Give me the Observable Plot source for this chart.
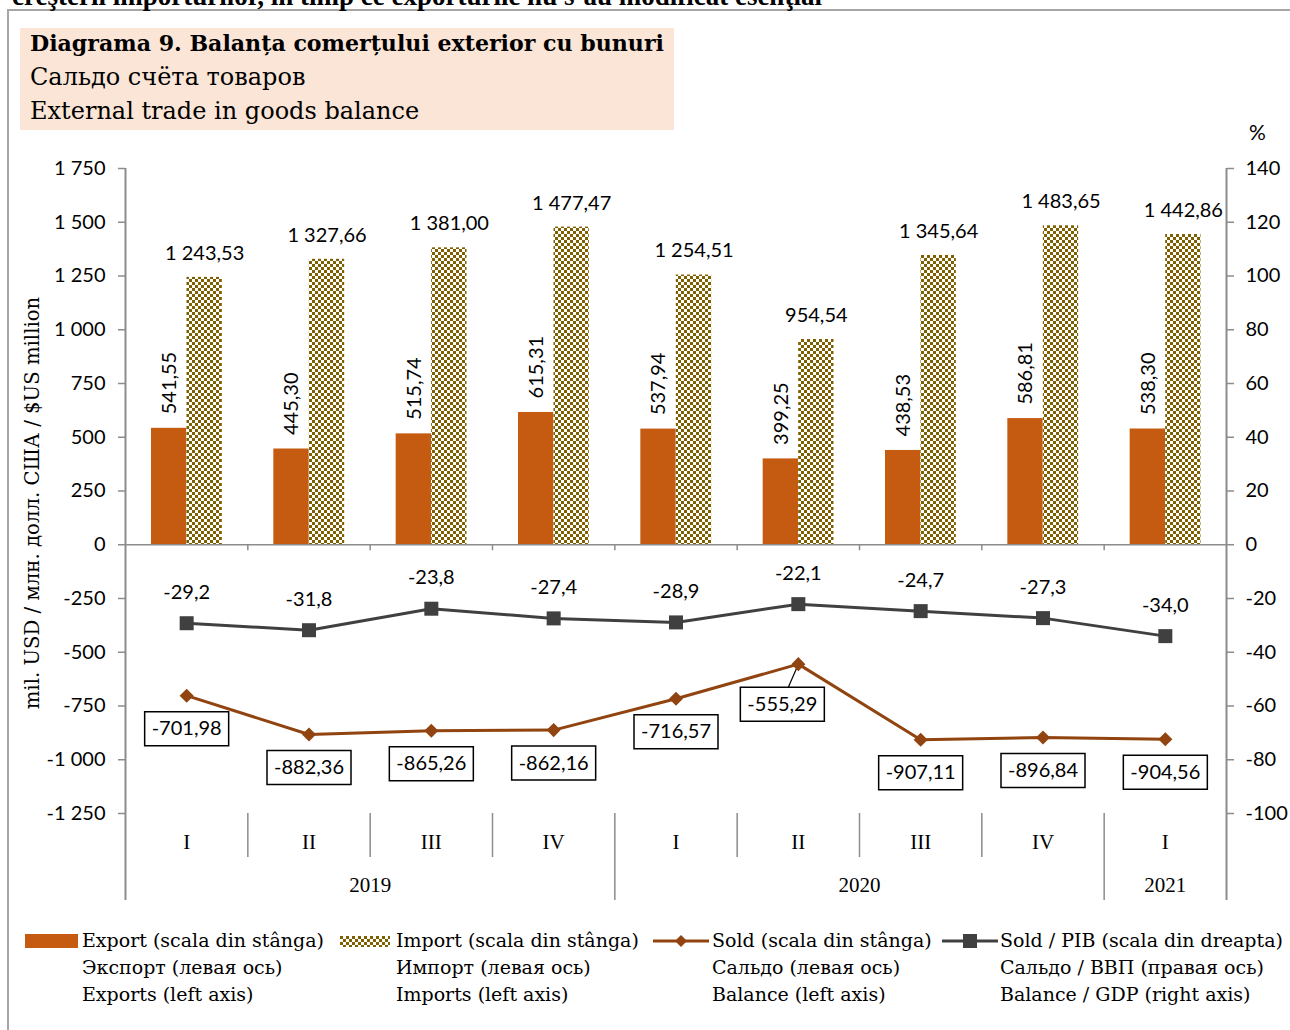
<!DOCTYPE html>
<html><head><meta charset="utf-8">
<script src="https://cdn.jsdelivr.net/npm/d3@7"></script>
<script src="https://cdn.jsdelivr.net/npm/@observablehq/plot@0.6"></script>
<style>
html,body{margin:0;padding:0;background:#fff;}
body{width:1290px;height:1030px;overflow:hidden;position:relative;font-family:"DejaVu Serif",serif;color:#000;}
#frame{position:absolute;left:7px;top:9px;width:1300px;height:1040px;border-left:2px solid #a6a6a6;border-top:2px solid #a6a6a6;}
#cut{position:absolute;left:12px;top:-19px;font:bold 27px "Liberation Serif",serif;line-height:30px;white-space:nowrap;}
#titlebox{position:absolute;left:20px;top:28px;width:654px;height:102px;background:#FBE5D6;z-index:2;}
.tl{position:absolute;left:10px;font-size:24px;line-height:30px;white-space:nowrap;}
#chart{position:absolute;left:0;top:120px;z-index:1;}
.lg{position:absolute;font-size:19px;line-height:27px;white-space:nowrap;}
.sw{position:absolute;}
</style>
</head><body>
<svg width="0" height="0" style="position:absolute">
  <defs>
    <pattern id="chk" patternUnits="userSpaceOnUse" width="6" height="6">
      <rect width="6" height="6" fill="#ffffff"/>
      <rect x="0" y="0" width="3" height="3" fill="#7F6000"/>
      <rect x="3" y="3" width="3" height="3" fill="#7F6000"/>
    </pattern>
  </defs>
</svg>
<div id="frame"></div>
<div id="cut">creşterii importurilor, în timp ce exporturile nu s-au modificat esenţial</div>
<div id="titlebox">
  <div class="tl" style="top:0px;font-weight:bold;font-size:22.1px;">Diagrama 9. Balanța comerțului exterior cu bunuri</div>
  <div class="tl" style="top:34px;">Сальдо счёта товаров</div>
  <div class="tl" style="top:68px;">External trade in goods balance</div>
</div>
<div id="chart"></div>
<div id="legend"></div>
<script>
// ---- data ----
const quarters = ["I","II","III","IV","I","II","III","IV","I"];
const yearOf   = ["2019","2019","2019","2019","2020","2020","2020","2020","2021"];
const years    = ["2019","2020","2021"];
const exportsV = [541.55, 445.30, 515.74, 615.31, 537.94, 399.25, 438.53, 586.81, 538.30];
const importsV = [1243.53, 1327.66, 1381.00, 1477.47, 1254.51, 954.54, 1345.64, 1483.65, 1442.86];
const balanceV = [-701.98, -882.36, -865.26, -862.16, -716.57, -555.29, -907.11, -896.84, -904.56];
const balGdpV  = [-29.2, -31.8, -23.8, -27.4, -28.9, -22.1, -24.7, -27.3, -34.0];
const leftTicks = [-1250,-1000,-750,-500,-250,0,250,500,750,1000,1250,1500,1750];
const axisTitle = "mil. USD / млн. долл. США / $US million";
const ratio = 12.5; // left units per right-axis unit

const rows = quarters.map((q,i)=>({i, q, year:yearOf[i], exp:exportsV[i], imp:importsV[i], bal:balanceV[i], gdp:balGdpV[i]}));
const yearRows = years.map(y=>({year:y, c:d3.mean(rows.filter(r=>r.year===y), r=>r.i)}));

const loc = d3.formatLocale({decimal:",", thousands:" ", grouping:[3], currency:["",""], minus:"-"});
const f2 = loc.format(",.2f"), f1 = loc.format(".1f"), f0 = loc.format(",d"), fr = loc.format("d");

// ---- layout ----
const W=1290, H=800, mL=125, mR=64, mT=48, mB=107;
const plotH = H-mT-mB;
const SANS = "Lato, 'Open Sans', sans-serif";
const SERIF = "'Liberation Serif', serif";
const SERIF2 = "'DejaVu Serif', serif";
const cExp="#C55A11", cBal="#914410", cGdp="#404040", cAxis="#8c8c8c";

const diamond = {draw(ctx,size){const h=Math.sqrt(size/2);ctx.moveTo(0,-h);ctx.lineTo(h,0);ctx.lineTo(0,h);ctx.lineTo(-h,0);ctx.closePath();}};
const box = {draw(ctx){ctx.rect(-42,-17,84,34);}};
const leader = {draw(ctx){ctx.moveTo(0,0);ctx.lineTo(-10,23);}};
const moved = 5;

const inner = d3.range(0.5, 8, 1);
const qSep = inner.filter(v=>v!==3.5 && v!==7.5);
const ySep = [3.5, 7.5];

const chart = Plot.plot({
  width:W, height:H, marginLeft:mL, marginRight:mR, marginTop:mT, marginBottom:mB,
  style:{background:"transparent", overflow:"visible"},
  x:{type:"linear", domain:[-0.5,8.5], axis:null, label:null},
  y:{domain:[-1250,1750], axis:null, label:null},
  marks:[
    Plot.rectY(rows,{x1:d=>d.i-0.5, x2:d=>d.i+0.5, y1:0, y2:"exp", insetLeft:26, insetRight:61, fill:cExp}),
    Plot.rectY(rows,{x1:d=>d.i-0.5, x2:d=>d.i+0.5, y1:0, y2:"imp", insetLeft:61.5, insetRight:25.5, fill:"url(#chk)"}),
    Plot.ruleY([0],{stroke:cAxis, strokeWidth:1.5}),
    Plot.ruleX(inner,{y1:0, y2:0, insetBottom:-6, stroke:cAxis, strokeWidth:1.5}),
    Plot.ruleX([-0.5,8.5],{stroke:cAxis, strokeWidth:2, insetBottom:-87}),
    Plot.ruleX(ySep,{stroke:cAxis, strokeWidth:1.5, insetTop:plotH, insetBottom:-87}),
    Plot.ruleX(qSep,{stroke:cAxis, strokeWidth:1.5, insetTop:plotH, insetBottom:-44}),
    Plot.axisY(leftTicks,{anchor:"left", tickSize:7, tickPadding:13, tickFormat:f0, fontSize:20, fontFamily:SANS, stroke:cAxis, fill:"black", strokeWidth:1.5}),
    Plot.axisY(leftTicks,{anchor:"right", tickSize:7, tickPadding:12, tickFormat:d=>fr(d/ratio), fontSize:20, fontFamily:SANS, stroke:cAxis, fill:"black", strokeWidth:1.5}),
    Plot.line(rows,{x:"i", y:d=>d.gdp*ratio, stroke:cGdp, strokeWidth:3}),
    Plot.dot(rows,{x:"i", y:d=>d.gdp*ratio, symbol:"square", r:7.9, fill:cGdp}),
    Plot.dot(rows.filter(d=>d.i===moved),{x:"i", y:"bal", symbol:leader, stroke:"black", fill:"none", strokeWidth:1.2}),
    Plot.line(rows,{x:"i", y:"bal", stroke:cBal, strokeWidth:3}),
    Plot.dot(rows,{x:"i", y:"bal", symbol:diamond, r:5.6, fill:cBal}),
    Plot.dot(rows.filter(d=>d.i!==moved),{x:"i", y:"bal", dy:33, symbol:box, fill:"white", stroke:"black", strokeWidth:1.5}),
    Plot.dot(rows.filter(d=>d.i===moved),{x:"i", y:"bal", dx:-16, dy:40, symbol:box, fill:"white", stroke:"black", strokeWidth:1.5}),
    Plot.text(rows.filter(d=>d.i!==moved),{x:"i", y:"bal", dy:33, text:d=>f2(d.bal), fontSize:20, fontFamily:SANS, fill:"black"}),
    Plot.text(rows.filter(d=>d.i===moved),{x:"i", y:"bal", dx:-16, dy:40, text:d=>f2(d.bal), fontSize:20, fontFamily:SANS, fill:"black"}),
    Plot.text(rows,{x:"i", y:d=>d.gdp*ratio, dy:-31, text:d=>f1(d.gdp), fontSize:20, fontFamily:SANS, fill:"black"}),
    Plot.text(rows,{x:"i", y:"imp", dx:18, dy:-24, text:d=>f2(d.imp), fontSize:20, fontFamily:SANS, fill:"black"}),
    Plot.text(rows,{x:"i", y:"exp", dx:-17, dy:-14, rotate:-90, textAnchor:"start", text:d=>f2(d.exp), fontSize:20, fontFamily:SANS, fill:"black"}),
    Plot.text(rows,{x:"i", frameAnchor:"bottom", lineAnchor:"middle", dy:29, text:"q", fontSize:21, fontFamily:SERIF, fill:"black"}),
    Plot.text(yearRows,{x:"c", frameAnchor:"bottom", lineAnchor:"middle", dy:72, text:"year", fontSize:21, fontFamily:SERIF, fill:"black"}),
    Plot.text([axisTitle],{frameAnchor:"left", rotate:-90, dx:-93, dy:12, textAnchor:"middle", lineAnchor:"middle", fontSize:19.7, fontFamily:SERIF2, fill:"black"}),
    Plot.text(["%"],{frameAnchor:"top-right", dx:31, dy:-35, textAnchor:"middle", lineAnchor:"middle", fontSize:21, fontFamily:SANS, fill:"black"})
  ]
});
document.getElementById("chart").appendChild(chart);

// ---- legend ----
const legendItems = [
  {sx:25, tx:82, lines:["Export (scala din stânga)","Экспорт (левая ось)","Exports (left axis)"], kind:"exp"},
  {sx:340, tx:396, lines:["Import (scala din stânga)","Импорт (левая ось)","Imports (left axis)"], kind:"imp"},
  {sx:653, tx:712, lines:["Sold (scala din stânga)","Сальдо (левая ось)","Balance (left axis)"], kind:"bal"},
  {sx:942, tx:1000, lines:["Sold / PIB (scala din dreapta)","Сальдо / ВВП (правая ось)","Balance / GDP (right axis)"], kind:"gdp"}
];
const lg = document.getElementById("legend");
legendItems.forEach(it=>{
  let sw = "";
  if(it.kind==="exp") sw = `<svg class="sw" style="left:${it.sx}px;top:934px" width="53" height="14"><rect width="53" height="14" fill="${cExp}"/></svg>`;
  if(it.kind==="imp") sw = `<svg class="sw" style="left:${it.sx}px;top:936px" width="50" height="11"><rect width="50" height="11" fill="url(#chk)"/></svg>`;
  if(it.kind==="bal") sw = `<svg class="sw" style="left:${it.sx}px;top:931px" width="56" height="20"><line x1="0" x2="56" y1="10" y2="10" stroke="${cBal}" stroke-width="3"/><path d="M28,4 L34,10 L28,16 L22,10 Z" fill="${cBal}"/></svg>`;
  if(it.kind==="gdp") sw = `<svg class="sw" style="left:${it.sx}px;top:931px" width="56" height="20"><line x1="0" x2="56" y1="10" y2="10" stroke="${cGdp}" stroke-width="3"/><rect x="21" y="3" width="14" height="14" fill="${cGdp}"/></svg>`;
  lg.insertAdjacentHTML("beforeend", sw);
  it.lines.forEach((t,k)=>{
    lg.insertAdjacentHTML("beforeend", `<div class="lg" style="left:${it.tx}px;top:${927+k*27}px">${t}</div>`);
  });
});
</script>
</body></html>
